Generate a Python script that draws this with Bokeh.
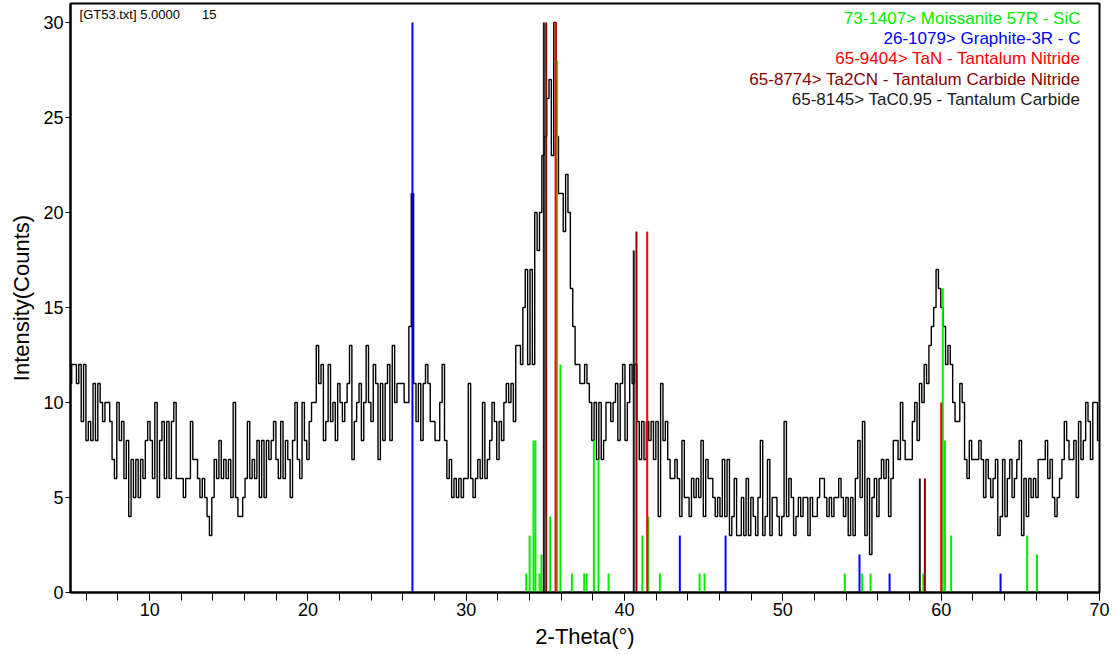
import numpy as np
from bokeh.plotting import figure
from bokeh.models import Range1d, Label, FixedTicker
from bokeh.embed import file_html
from bokeh.resources import INLINE

# ---- measured pattern (2-theta start / step, counts) ----
two_theta_start = 5.0
two_theta_step = 0.15
intensity = [
    11, 12, 12, 11, 12, 9, 12, 8, 9, 8,        # 5.0
    11, 8, 11, 10, 9, 10, 10, 9, 7, 6,         # 6.5
    10, 8, 9, 6, 8, 4, 7, 5, 7, 5,             # 8.0
    7, 6, 8, 9, 8, 6, 10, 5, 8, 9,             # 9.5
    6, 9, 6, 9, 10, 6, 6, 6, 5, 6,             # 11.0
    6, 9, 7, 7, 6, 5, 6, 5, 4, 3,              # 12.5
    5, 7, 6, 8, 6, 7, 6, 7, 5, 10,             # 14.0
    5, 4, 4, 5, 6, 9, 6, 7, 6, 8,              # 15.5
    5, 8, 5, 8, 7, 8, 9, 7, 6, 9,              # 17.0
    6, 8, 7, 5, 8, 10, 7, 6, 10, 8,            # 18.5
    7, 9, 10, 10, 13, 11, 12, 8, 9, 12,        # 20.0
    9, 10, 8, 11, 10, 9, 10, 11, 13, 7,        # 21.5
    9, 10, 11, 8, 10, 13, 10, 9, 12, 11,       # 23.0
    7, 11, 8, 11, 12, 8, 13, 10, 11, 11,       # 24.5
    11, 10, 10, 14, 21, 11, 9, 11, 8, 11,      # 26.0
    12, 11, 9, 9, 8, 8, 10, 12, 8, 6,          # 27.5
    7, 5, 6, 5, 6, 5, 6, 6, 11, 6,             # 29.0
    5, 6, 7, 6, 10, 6, 7, 8, 10, 9,            # 30.5
    7, 9, 8, 10, 11, 10, 11, 9, 13, 13,        # 32.0
    12, 15, 17, 12, 17, 12, 20, 18, 20, 23,    # 33.5
    24, 26, 27, 23, 30, 24, 21, 21, 19, 22,    # 35.0
    20, 16, 14, 12, 12, 11, 11, 12, 11, 10,    # 36.5
    8, 10, 7, 10, 7, 8, 10, 10, 9, 10,         # 38.0
    11, 8, 11, 12, 8, 10, 12, 11, 12, 9,       # 39.5
    7, 9, 7, 9, 8, 9, 7, 9, 4, 11,             # 41.0
    8, 9, 7, 6, 6, 7, 6, 4, 8, 5,              # 42.5
    5, 4, 6, 5, 6, 5, 8, 4, 7, 6,              # 44.0
    6, 5, 4, 5, 4, 7, 4, 7, 3, 4,              # 45.5
    6, 3, 3, 5, 3, 6, 3, 5, 4, 3,              # 47.0
    5, 8, 3, 4, 7, 3, 5, 5, 4, 3,              # 48.5
    4, 9, 4, 6, 5, 3, 4, 5, 4, 5,              # 50.0
    5, 3, 5, 4, 4, 5, 6, 6, 5, 4,              # 51.5
    5, 4, 5, 5, 6, 5, 4, 5, 3, 5,              # 53.0
    3, 6, 8, 5, 9, 3, 6, 2, 5, 6,              # 54.5
    4, 6, 7, 6, 7, 4, 6, 8, 8, 7,              # 56.0
    10, 8, 7, 7, 7, 9, 10, 8, 11, 10,          # 57.5
    12, 11, 13, 14, 15, 17, 16, 15, 14, 12,    # 59.0
    13, 12, 10, 9, 9, 11, 10, 7, 6, 8,         # 60.5
    7, 7, 7, 8, 7, 5, 7, 6, 5, 6,              # 62.0
    7, 3, 4, 7, 4, 6, 7, 5, 6, 7,              # 63.5
    8, 3, 6, 4, 6, 5, 6, 5, 7, 7,              # 65.0
    7, 8, 6, 7, 5, 4, 5, 6, 7, 9,              # 66.5
    8, 7, 7, 8, 5, 9, 7, 8, 10, 9,             # 68.0
    7, 10, 10, 8,                              # 69.5
]
two_theta = [round(two_theta_start + two_theta_step * i, 3) for i in range(len(intensity))]

# ---- reference card stick patterns ----
sic_pos = [33.79, 34.0, 34.25, 34.37, 34.63, 34.75, 35.3, 35.74, 35.95, 36.67, 37.45, 37.6,
           38.06, 38.35, 38.99, 41.12, 41.5, 42.23, 44.74, 45.05, 53.91, 55.01, 55.54,
           58.87, 60.1, 60.24, 60.63, 65.43, 66.05]
sic_int = [1, 3, 8, 8, 1, 2, 4, 28, 12, 1, 1, 1,
           8, 7, 1, 3, 4, 1, 1, 1, 1, 1, 1,
           1, 16, 8, 3, 3, 2]
graphite_pos = [26.6, 43.49, 46.38, 54.84, 56.74, 63.75]
graphite_int = [30, 3, 3, 2, 1, 1]
tac_pos = [34.9, 40.58, 58.65]
tac_int = [30, 18, 6]
ta2cn_pos = [35.05, 40.75, 58.97]
ta2cn_int = [30, 19, 6]
tan_pos = [35.64, 41.43, 60.0]
tan_int = [30, 19, 10]

legend_labels = ["73-1407> Moissanite 57R - SiC",
                 "26-1079> Graphite-3R - C",
                 "65-9404> TaN - Tantalum Nitride",
                 "65-8774> Ta2CN - Tantalum Carbide Nitride",
                 "65-8145> TaC0.95 - Tantalum Carbide"]
legend_colors = ["#00ee00", "#0000ff", "#ff0000", "#8b0000", "#1a1a1a"]

x_major = [10, 20, 30, 40, 50, 60, 70]
x_minor = list(range(6, 71, 2))
y_major = [0, 5, 10, 15, 20, 25, 30]

FONT = "Liberation Sans"

p = figure(width=1109, height=651, output_backend="svg", toolbar_location=None,
           x_range=Range1d(5, 70), y_range=Range1d(0, 31.0),
           min_border_left=70, min_border_right=10, min_border_top=3, min_border_bottom=58)
p.background_fill_color = "white"
p.border_fill_color = "white"
p.outline_line_color = "black"
p.outline_line_width = 2
p.xgrid.visible = False
p.ygrid.visible = False

p.step(two_theta, intensity, mode="center", line_color="black", line_width=1.4)

def sticks(pos, ints, color):
    p.segment(x0=pos, y0=[0] * len(pos), x1=pos, y1=ints, line_color=color, line_width=2)

sticks(sic_pos, sic_int, legend_colors[0])
sticks(graphite_pos, graphite_int, legend_colors[1])
sticks(tac_pos, tac_int, legend_colors[4])
sticks(ta2cn_pos, ta2cn_int, legend_colors[3])
sticks(tan_pos, tan_int, legend_colors[2])

# axes
p.xaxis.ticker = FixedTicker(ticks=x_major, minor_ticks=x_minor)
p.yaxis.ticker = FixedTicker(ticks=y_major, minor_ticks=[])
for ax in (p.xaxis, p.yaxis):
    ax.axis_line_color = "black"
    ax.axis_line_width = 2
    ax.major_tick_line_color = "black"
    ax.minor_tick_line_color = "black"
    ax.major_tick_in = 0
    ax.minor_tick_in = 0
    ax.major_label_text_font = FONT
    ax.major_label_text_font_size = "18px"
    ax.major_label_text_color = "black"
    ax.axis_label_text_font = FONT
    ax.axis_label_text_font_size = "22px"
    ax.axis_label_text_font_style = "normal"
    ax.axis_label_text_color = "black"
p.xaxis.major_tick_out = 8
p.xaxis.minor_tick_out = 8
p.xaxis.major_label_standoff = 2
p.xaxis.axis_label = "2-Theta(°)"
p.xaxis.axis_label_standoff = 5
p.yaxis.major_tick_out = 5
p.yaxis.minor_tick_out = 0
p.yaxis.major_label_standoff = 2
p.yaxis.axis_label = "Intensity(Counts)"
p.yaxis.axis_label_standoff = 6

# header text
p.add_layout(Label(x=5.57, y=30.43, text="[GT53.txt] 5.0000", text_font=FONT,
                   text_font_size="13px", text_baseline="middle", text_color="black"))
p.add_layout(Label(x=13.3, y=30.43, text="15", text_font=FONT,
                   text_font_size="13px", text_baseline="middle", text_color="black"))

# legend (right-aligned text list)
legend_x = 68.8
legend_top = 30.2
legend_gap = 1.06
for i, (lab, col) in enumerate(zip(legend_labels, legend_colors)):
    p.add_layout(Label(x=legend_x, y=legend_top - i * legend_gap, text=lab, text_color=col,
                       text_font=FONT, text_font_size="17px",
                       text_align="right", text_baseline="middle"))

open("out.html", "w").write(file_html(p, INLINE))
